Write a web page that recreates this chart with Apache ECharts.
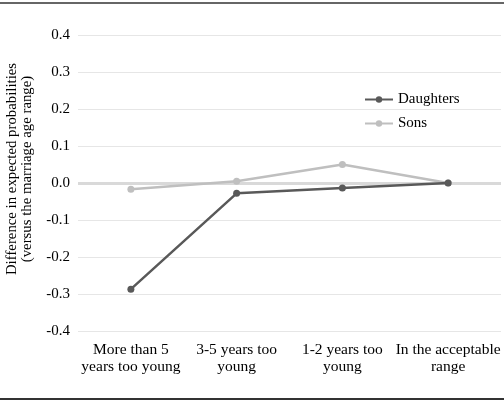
<!DOCTYPE html>
<html><head><meta charset="utf-8">
<script src="https://cdn.jsdelivr.net/npm/echarts@6/dist/echarts.min.js"></script>
<style>html,body{margin:0;padding:0;background:#fff}#c{width:504px;height:401px}</style>
</head><body><div id="c"></div>
<script>
const categories = ['More than 5\nyears too young', '3-5 years too\nyoung', '1-2 years too\nyoung', 'In the acceptable\nrange'];
const daughters = [-0.287, -0.028, -0.0135, 0.0];
const sons = [-0.017, 0.005, 0.05, 0.0];
const yTicks = { min: -0.4, max: 0.4, interval: 0.1 };
const yTitle = 'Difference in expected probabilities\n(versus the marriage age range)';
const font = '"Liberation Serif", "Times New Roman", serif';

const chart = echarts.init(document.getElementById('c'), null, { renderer: 'canvas' });
chart.setOption({
  animation: false,
  backgroundColor: '#fff',
  textStyle: { fontFamily: font },
  grid: { left: 78, right: 3, top: 35, bottom: 70, containLabel: false, outerBoundsMode: 'none' },
  legend: {
    orient: 'vertical', left: 359, top: 87, itemWidth: 28, itemHeight: 8, itemGap: 9,
    textStyle: { fontFamily: font, fontSize: 15, color: '#000' },
    data: ['Daughters', 'Sons']
  },
  xAxis: {
    type: 'category', data: categories, boundaryGap: true,
    axisLine: { show: false }, axisTick: { show: false },
    axisLabel: { fontFamily: font, fontSize: 15.5, color: '#000', lineHeight: 17, margin: 10, interval: 0 }
  },
  yAxis: {
    type: 'value', min: yTicks.min, max: yTicks.max, interval: yTicks.interval,
    axisLine: { show: false }, axisTick: { show: false },
    axisLabel: { fontFamily: font, fontSize: 15, color: '#000', margin: 8, formatter: v => v.toFixed(1) },
    splitLine: { lineStyle: { color: '#e6e6e6', width: 1 } }
  },
  graphic: [
    { type: 'line', shape: { x1: 0, y1: 3, x2: 504, y2: 3 }, style: { stroke: '#333', lineWidth: 1.5 } },
    { type: 'line', shape: { x1: 0, y1: 399, x2: 504, y2: 399 }, style: { stroke: '#333', lineWidth: 2 } },
    { type: 'text', x: 20, y: 169, rotation: Math.PI / 2,
      style: { text: yTitle, fontFamily: font, fontSize: 14.8, lineHeight: 15, fill: '#000', align: 'center', verticalAlign: 'middle' } }
  ],
  series: [
    {
      name: 'Sons', type: 'line', data: sons, symbol: 'circle', symbolSize: 7, z: 3,
      lineStyle: { color: '#bfbfbf', width: 2.5 }, itemStyle: { color: '#bfbfbf' },
      markLine: {
        silent: true, symbol: 'none', label: { show: false },
        lineStyle: { color: '#d9d9d9', width: 3, type: 'solid' },
        data: [{ yAxis: 0 }], z: 1
      }
    },
    {
      name: 'Daughters', type: 'line', data: daughters, symbol: 'circle', symbolSize: 7, z: 4,
      lineStyle: { color: '#595959', width: 2.5 }, itemStyle: { color: '#595959' }
    }
  ]
});
</script></body></html>
